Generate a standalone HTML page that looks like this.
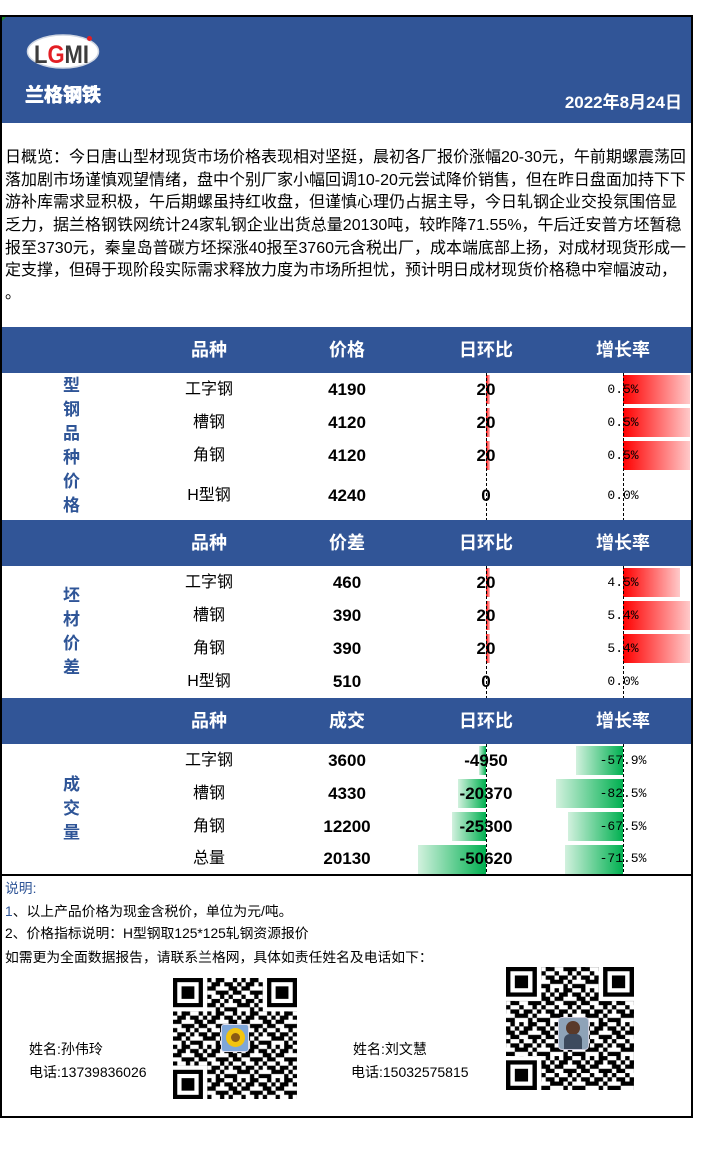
<!DOCTYPE html>
<html><head><meta charset="utf-8">
<style>
*{margin:0;padding:0;box-sizing:border-box}
body{width:704px;height:1156px;background:#fff;position:relative;overflow:hidden;font-family:"Liberation Sans","Noto Sans CJK SC",sans-serif;color:#000}
.a{position:absolute}
.frame{left:0;top:15px;width:693px;height:1103px;border:2px solid #000}
.hdr{position:absolute;left:2px;width:689px;height:46px;background:#315597}
.th{position:absolute;top:0;height:46px;line-height:46px;text-align:center;color:#fff;font-weight:bold;font-size:18px;font-family:"Liberation Sans","Noto Sans CJK SC",sans-serif}
.sum{position:absolute;left:5px;font-size:16px;line-height:22px;height:22px;white-space:nowrap}
.c{position:absolute;text-align:center;white-space:nowrap}
.n{font-size:16px}
.v{font-size:17px;font-weight:bold}
.r{font-family:"Liberation Mono",monospace;font-size:13px}
.lab{position:absolute;left:59px;width:25px;text-align:center;font-size:17px;font-weight:bold;line-height:24px;color:#2f5597}
.red{position:absolute;background:linear-gradient(to right,#ff0000,#ffcaca)}
.grn{position:absolute;background:linear-gradient(to left,#00b050,#d2f1de)}
.ft{position:absolute;left:5px;font-size:13.8px;height:20px;line-height:20px;white-space:nowrap}
.nm{position:absolute;font-size:14px;height:20px;line-height:20px;white-space:nowrap}
</style></head><body>

<div class="a frame"></div>
<!-- header band -->
<div class="a" style="left:2px;top:17px;width:689px;height:106px;background:#315597"></div>
<div class="a" style="left:2px;top:17px;width:0;height:0;border-top:4px solid #1a8a2a;border-right:4px solid transparent"></div>
<svg class="a" style="left:20px;top:30px" width="90" height="45" viewBox="20 30 90 45">
  <ellipse cx="63" cy="51.5" rx="35.5" ry="16.5" fill="#fff" stroke="#cfd6e2" stroke-width="1.5"/>
  <text x="34" y="63" font-size="25" font-weight="bold" font-family="Liberation Sans" textLength="55" lengthAdjust="spacingAndGlyphs"><tspan fill="#3c3c3c">L</tspan><tspan fill="#e31e24">G</tspan><tspan fill="#3c3c3c">MI</tspan></text>
  <circle cx="89.5" cy="38.5" r="2.5" fill="#e31e24"/>
</svg>
<div class="a" style="left:25px;top:82px;width:80px;font-size:19px;line-height:23px;font-weight:bold;color:#fff;font-family:'Noto Sans CJK SC','WenQuanYi Zen Hei',sans-serif;white-space:nowrap;text-shadow:0.5px 0 0 #fff,-0.5px 0 0 #fff,0 0.5px 0 #fff">兰格钢铁</div>
<div class="a" style="right:22px;top:91px;font-size:17px;line-height:24px;font-weight:bold;color:#fff;white-space:nowrap">2022年8月24日</div>

<!-- summary -->
<div class="sum" style="top:147px">日概览：今日唐山型材现货市场价格表现相对坚挺，晨初各厂报价涨幅20-30元，午前期螺震荡回</div>
<div class="sum" style="top:170px">落加剧市场谨慎观望情绪，盘中个别厂家小幅回调10-20元尝试降价销售，但在昨日盘面加持下下</div>
<div class="sum" style="top:192px">游补库需求显积极，午后期螺虽持红收盘，但谨慎心理仍占据主导，今日轧钢企业交投氛围倍显</div>
<div class="sum" style="top:215px">乏力，据兰格钢铁网统计24家轧钢企业出货总量20130吨，较昨降71.55%，午后迁安普方坯暂稳</div>
<div class="sum" style="top:238px">报至3730元，秦皇岛普碳方坯探涨40报至3760元含税出厂，成本端底部上扬，对成材现货形成一</div>
<div class="sum" style="top:260px">定支撑，但碍于现阶段实际需求释放力度为市场所担忧，预计明日成材现货价格稳中窄幅波动，</div>
<div class="sum" style="top:283px">。</div>

<!-- section 1 header -->
<div class="hdr" style="top:327px">
  <div class="th" style="left:138px;width:138px">品种</div>
  <div class="th" style="left:276px;width:138px">价格</div>
  <div class="th" style="left:414px;width:140px">日环比</div>
  <div class="th" style="left:553px;width:136px">增长率</div>
</div>
<div class="lab" style="top:374px">型<br>钢<br>品<br>种<br>价<br>格</div>

<!-- section 1 bars -->
<div class="red" style="left:486px;top:375px;width:4px;height:29px"></div>
<div class="red" style="left:486px;top:408px;width:4px;height:29px"></div>
<div class="red" style="left:486px;top:441px;width:4px;height:29px"></div>
<div class="red" style="left:623px;top:375px;width:67px;height:29px"></div>
<div class="red" style="left:623px;top:408px;width:67px;height:29px"></div>
<div class="red" style="left:623px;top:441px;width:67px;height:29px"></div>

<!-- section 1 rows -->
<div class="c n" style="left:140px;width:138px;top:373px;height:33px;line-height:33px">工字钢</div>
<div class="c v" style="left:278px;width:138px;top:373px;height:33px;line-height:33px">4190</div>
<div class="c v" style="left:416px;width:140px;top:373px;height:33px;line-height:33px">20</div>
<div class="c r" style="left:555px;width:136px;top:373px;height:33px;line-height:33px">0.5%</div>

<div class="c n" style="left:140px;width:138px;top:406px;height:33px;line-height:33px">槽钢</div>
<div class="c v" style="left:278px;width:138px;top:406px;height:33px;line-height:33px">4120</div>
<div class="c v" style="left:416px;width:140px;top:406px;height:33px;line-height:33px">20</div>
<div class="c r" style="left:555px;width:136px;top:406px;height:33px;line-height:33px">0.5%</div>

<div class="c n" style="left:140px;width:138px;top:439px;height:33px;line-height:33px">角钢</div>
<div class="c v" style="left:278px;width:138px;top:439px;height:33px;line-height:33px">4120</div>
<div class="c v" style="left:416px;width:140px;top:439px;height:33px;line-height:33px">20</div>
<div class="c r" style="left:555px;width:136px;top:439px;height:33px;line-height:33px">0.5%</div>

<div class="c n" style="left:140px;width:138px;top:472px;height:48px;line-height:48px">H型钢</div>
<div class="c v" style="left:278px;width:138px;top:472px;height:48px;line-height:48px">4240</div>
<div class="c v" style="left:416px;width:140px;top:472px;height:48px;line-height:48px">0</div>
<div class="c r" style="left:555px;width:136px;top:472px;height:48px;line-height:48px">0.0%</div>

<!-- section 2 header -->
<div class="hdr" style="top:520px">
  <div class="th" style="left:138px;width:138px">品种</div>
  <div class="th" style="left:276px;width:138px">价差</div>
  <div class="th" style="left:414px;width:140px">日环比</div>
  <div class="th" style="left:553px;width:136px">增长率</div>
</div>
<div class="lab" style="top:584px">坯<br>材<br>价<br>差</div>

<div class="red" style="left:486px;top:568px;width:4px;height:29px"></div>
<div class="red" style="left:486px;top:601px;width:4px;height:29px"></div>
<div class="red" style="left:486px;top:634px;width:4px;height:29px"></div>
<div class="red" style="left:623px;top:568px;width:57px;height:29px"></div>
<div class="red" style="left:623px;top:601px;width:67px;height:29px"></div>
<div class="red" style="left:623px;top:634px;width:67px;height:29px"></div>

<div class="c n" style="left:140px;width:138px;top:566px;height:33px;line-height:33px">工字钢</div>
<div class="c v" style="left:278px;width:138px;top:566px;height:33px;line-height:33px">460</div>
<div class="c v" style="left:416px;width:140px;top:566px;height:33px;line-height:33px">20</div>
<div class="c r" style="left:555px;width:136px;top:566px;height:33px;line-height:33px">4.5%</div>

<div class="c n" style="left:140px;width:138px;top:599px;height:33px;line-height:33px">槽钢</div>
<div class="c v" style="left:278px;width:138px;top:599px;height:33px;line-height:33px">390</div>
<div class="c v" style="left:416px;width:140px;top:599px;height:33px;line-height:33px">20</div>
<div class="c r" style="left:555px;width:136px;top:599px;height:33px;line-height:33px">5.4%</div>

<div class="c n" style="left:140px;width:138px;top:632px;height:33px;line-height:33px">角钢</div>
<div class="c v" style="left:278px;width:138px;top:632px;height:33px;line-height:33px">390</div>
<div class="c v" style="left:416px;width:140px;top:632px;height:33px;line-height:33px">20</div>
<div class="c r" style="left:555px;width:136px;top:632px;height:33px;line-height:33px">5.4%</div>

<div class="c n" style="left:140px;width:138px;top:665px;height:33px;line-height:33px">H型钢</div>
<div class="c v" style="left:278px;width:138px;top:665px;height:33px;line-height:33px">510</div>
<div class="c v" style="left:416px;width:140px;top:665px;height:33px;line-height:33px">0</div>
<div class="c r" style="left:555px;width:136px;top:665px;height:33px;line-height:33px">0.0%</div>

<!-- section 3 header -->
<div class="hdr" style="top:698px">
  <div class="th" style="left:138px;width:138px">品种</div>
  <div class="th" style="left:276px;width:138px">成交</div>
  <div class="th" style="left:414px;width:140px">日环比</div>
  <div class="th" style="left:553px;width:136px">增长率</div>
</div>
<div class="lab" style="top:773px">成<br>交<br>量</div>

<div class="grn" style="left:479px;top:746px;width:7px;height:29px"></div>
<div class="grn" style="left:458px;top:779px;width:28px;height:29px"></div>
<div class="grn" style="left:452px;top:812px;width:34px;height:29px"></div>
<div class="grn" style="left:418px;top:845px;width:68px;height:29px"></div>
<div class="grn" style="left:576px;top:746px;width:47px;height:29px"></div>
<div class="grn" style="left:556px;top:779px;width:67px;height:29px"></div>
<div class="grn" style="left:568px;top:812px;width:55px;height:29px"></div>
<div class="grn" style="left:565px;top:845px;width:58px;height:29px"></div>

<div class="c n" style="left:140px;width:138px;top:744px;height:33px;line-height:33px">工字钢</div>
<div class="c v" style="left:278px;width:138px;top:744px;height:33px;line-height:33px">3600</div>
<div class="c v" style="left:416px;width:140px;top:744px;height:33px;line-height:33px">-4950</div>
<div class="c r" style="left:555px;width:136px;top:744px;height:33px;line-height:33px">-57.9%</div>

<div class="c n" style="left:140px;width:138px;top:777px;height:33px;line-height:33px">槽钢</div>
<div class="c v" style="left:278px;width:138px;top:777px;height:33px;line-height:33px">4330</div>
<div class="c v" style="left:416px;width:140px;top:777px;height:33px;line-height:33px">-20370</div>
<div class="c r" style="left:555px;width:136px;top:777px;height:33px;line-height:33px">-82.5%</div>

<div class="c n" style="left:140px;width:138px;top:810px;height:33px;line-height:33px">角钢</div>
<div class="c v" style="left:278px;width:138px;top:810px;height:33px;line-height:33px">12200</div>
<div class="c v" style="left:416px;width:140px;top:810px;height:33px;line-height:33px">-25300</div>
<div class="c r" style="left:555px;width:136px;top:810px;height:33px;line-height:33px">-67.5%</div>

<div class="c n" style="left:140px;width:138px;top:843px;height:31px;line-height:31px">总量</div>
<div class="c v" style="left:278px;width:138px;top:843px;height:31px;line-height:31px">20130</div>
<div class="c v" style="left:416px;width:140px;top:843px;height:31px;line-height:31px">-50620</div>
<div class="c r" style="left:555px;width:136px;top:843px;height:31px;line-height:31px">-71.5%</div>

<!-- dashed axes -->
<svg class="a" style="left:0;top:0" width="704" height="1156">
  <g stroke="#000" stroke-width="1" stroke-dasharray="3 2">
    <line x1="486.5" y1="373" x2="486.5" y2="520"/>
    <line x1="623.5" y1="373" x2="623.5" y2="520"/>
    <line x1="486.5" y1="566" x2="486.5" y2="698"/>
    <line x1="623.5" y1="566" x2="623.5" y2="698"/>
    <line x1="486.5" y1="744" x2="486.5" y2="874"/>
    <line x1="623.5" y1="744" x2="623.5" y2="874"/>
  </g>
</svg>

<!-- separator -->
<div class="a" style="left:2px;top:874px;width:689px;height:2px;background:#000"></div>

<!-- footer -->
<div class="ft" style="top:879px;color:#2f5597">说明:</div>
<div class="ft" style="top:902px"><span style="color:#2f5597">1</span>、以上产品价格为现金含税价，单位为元/吨。</div>
<div class="ft" style="top:924px">2、价格指标说明：H型钢取125*125轧钢资源报价</div>
<div class="ft" style="top:948px">如需更为全面数据报告，请联系兰格网，具体如责任姓名及电话如下：</div>

<div class="nm" style="left:29px;top:1039px">姓名:孙伟玲</div>
<div class="nm" style="left:29px;top:1062px">电话:13739836026</div>
<div class="nm" style="left:353px;top:1039px">姓名:刘文慧</div>
<div class="nm" style="left:351px;top:1062px">电话:15032575815</div>

<!-- QR 1 -->
<svg class="a" style="left:173px;top:978px" width="124" height="121" viewBox="0 0 29 29" preserveAspectRatio="none">
  <defs>
    <pattern id="p1" width="8" height="8" patternUnits="userSpaceOnUse">
      <path fill="#000" d="M0 0h1v1h-1zM2 0h2v1h-2zM6 0h1v1h-1zM1 1h2v1h-2zM4 1h2v1h-2zM7 1h1v1h-1zM0 2h2v1h-2zM5 2h2v1h-2zM2 3h3v1h-3zM6 3h2v1h-2zM0 4h1v1h-1zM3 4h1v1h-1zM5 4h1v1h-1zM1 5h2v1h-2zM4 5h1v1h-1zM6 5h2v1h-2zM0 6h2v1h-2zM3 6h1v1h-1zM7 6h1v1h-1zM2 7h1v1h-1zM4 7h3v1h-3z"/>
    </pattern>
  </defs>
  <rect width="29" height="29" fill="#fff"/>
  <rect width="29" height="29" fill="url(#p1)"/>
  <rect x="0" y="0" width="8" height="8" fill="#fff"/><rect x="0" y="0" width="7" height="7" fill="#000"/><rect x="1" y="1" width="5" height="5" fill="#fff"/><rect x="2" y="2" width="3" height="3" fill="#000"/>
  <rect x="21" y="0" width="8" height="8" fill="#fff"/><rect x="22" y="0" width="7" height="7" fill="#000"/><rect x="23" y="1" width="5" height="5" fill="#fff"/><rect x="24" y="2" width="3" height="3" fill="#000"/>
  <rect x="0" y="21" width="8" height="8" fill="#fff"/><rect x="0" y="22" width="7" height="7" fill="#000"/><rect x="1" y="23" width="5" height="5" fill="#fff"/><rect x="2" y="24" width="3" height="3" fill="#000"/>
</svg>
<div class="a" style="left:221px;top:1024px;width:28px;height:28px;border-radius:3px;background:#7ea6d8;border:1px solid #dde"></div>
<div class="a" style="left:226px;top:1028px;width:19px;height:19px;border-radius:50%;background:#f2c40f"></div>
<div class="a" style="left:231px;top:1033px;width:9px;height:9px;border-radius:50%;background:#8a5a14"></div>

<!-- QR 2 -->
<svg class="a" style="left:506px;top:967px" width="128" height="123" viewBox="0 0 29 29" preserveAspectRatio="none">
  <defs>
    <pattern id="p2" width="8" height="8" patternUnits="userSpaceOnUse" patternTransform="translate(3 5)">
      <path fill="#000" d="M0 0h1v1h-1zM2 0h2v1h-2zM6 0h1v1h-1zM1 1h2v1h-2zM4 1h2v1h-2zM7 1h1v1h-1zM0 2h2v1h-2zM5 2h2v1h-2zM2 3h3v1h-3zM6 3h2v1h-2zM0 4h1v1h-1zM3 4h1v1h-1zM5 4h1v1h-1zM1 5h2v1h-2zM4 5h1v1h-1zM6 5h2v1h-2zM0 6h2v1h-2zM3 6h1v1h-1zM7 6h1v1h-1zM2 7h1v1h-1zM4 7h3v1h-3z"/>
    </pattern>
  </defs>
  <rect width="29" height="29" fill="#fff"/>
  <rect width="29" height="29" fill="url(#p2)"/>
  <rect x="0" y="0" width="8" height="8" fill="#fff"/><rect x="0" y="0" width="7" height="7" fill="#000"/><rect x="1" y="1" width="5" height="5" fill="#fff"/><rect x="2" y="2" width="3" height="3" fill="#000"/>
  <rect x="21" y="0" width="8" height="8" fill="#fff"/><rect x="22" y="0" width="7" height="7" fill="#000"/><rect x="23" y="1" width="5" height="5" fill="#fff"/><rect x="24" y="2" width="3" height="3" fill="#000"/>
  <rect x="0" y="21" width="8" height="8" fill="#fff"/><rect x="0" y="22" width="7" height="7" fill="#000"/><rect x="1" y="23" width="5" height="5" fill="#fff"/><rect x="2" y="24" width="3" height="3" fill="#000"/>
</svg>
<div class="a" style="left:558px;top:1017px;width:31px;height:33px;border-radius:4px;background:#8ea3b8;border:1px solid #ccd"></div>
<div class="a" style="left:566px;top:1021px;width:14px;height:14px;border-radius:50%;background:#5a3a2a"></div>
<div class="a" style="left:564px;top:1034px;width:18px;height:15px;border-radius:6px 6px 0 0;background:#3d4a5e"></div>

</body></html>
